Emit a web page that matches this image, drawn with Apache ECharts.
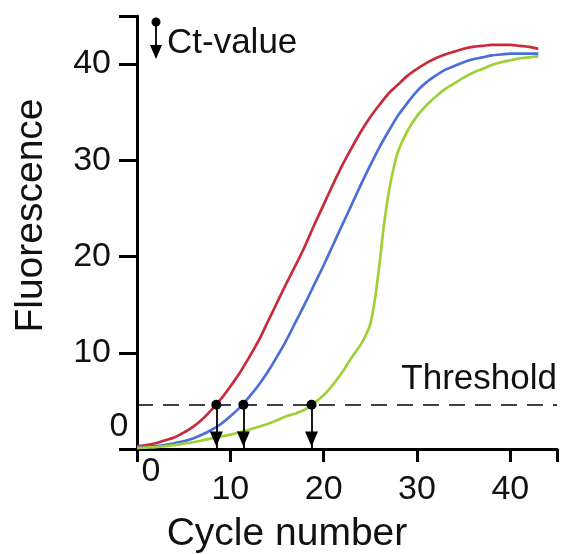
<!DOCTYPE html>
<html><head><meta charset="utf-8">
<script src="https://cdn.jsdelivr.net/npm/echarts@6/dist/echarts.min.js"></script>
<style>html,body{margin:0;padding:0;background:#fff}#c{width:561px;height:554px}</style>
</head><body><div id="c"></div>
<script>
const cycles = [0,1,2,3,4,5,6,7,8,9,10,11,12,13,14,15,16,17,18,19,20,21,22,23,24,25,26,27,28,29,30,31,32,33,34,35,36,37,38,39,40,41,42,43];
const redValues = [0.3,0.4,0.6,0.9,1.2,1.7,2.3,3.1,4.1,5.2,6.5,7.9,9.5,11.2,13.2,15.2,17.2,19.1,21.1,23.3,25.4,27.5,29.5,31.3,33.0,34.5,35.8,37.0,37.9,38.8,39.5,40.1,40.6,41.0,41.3,41.6,41.8,41.9,42.0,42.0,42.0,41.9,41.8,41.6];
const blueValues = [0.2,0.25,0.3,0.4,0.6,0.8,1.1,1.5,2.0,2.6,3.4,4.3,5.4,6.6,8.0,9.6,11.3,13.2,15.1,17.1,19.1,21.2,23.3,25.4,27.5,29.5,31.4,33.1,34.7,36.0,37.2,38.1,38.8,39.4,39.8,40.2,40.5,40.7,40.9,41.0,41.1,41.1,41.1,41.1];
const greenCycles = [0,1,2,3,4,5,6,7,8,9,10,11,12,13,14,15,16,17,18,19,20,21,22,23,24,24.5,25,25.5,26,26.5,27,27.5,28,29,30,31,32,33,34,35,36,37,38,39,40,41,42,43];
const greenValues = [0.1,0.15,0.2,0.3,0.4,0.55,0.7,0.9,1.1,1.3,1.5,1.75,2.0,2.3,2.6,3.0,3.4,3.7,4.1,4.8,5.6,6.7,8.0,9.5,10.9,11.8,13.0,15.6,19.4,23.6,26.8,29.2,31.0,33.1,34.6,35.7,36.6,37.4,38.0,38.6,39.1,39.5,39.9,40.2,40.4,40.6,40.7,40.8];
const threshold = 4.6;
const ctValues = [8.5, 11.4, 18.7];
const xTickValues = [0,10,20,30,40,45];
const xLabelValues = [10,20,30,40];
const yTickValues = [0,10,20,30,40,45];
const yLabelValues = [10,20,30,40];
const colors = ['#c62c3a', '#4b6fd6', '#a0d038'];
const FONT = "'Liberation Sans', Arial, sans-serif";

function pairs(xs, ys){ return xs.map((x,i)=>[x, ys[i]]); }

const chart = echarts.init(document.getElementById('c'), null, {renderer:'canvas'});
const axisLine = {show:true, lineStyle:{color:'#000', width:3}};
chart.setOption({
  animation: false,
  backgroundColor: '#fff',
  grid: {left:137, right:4, top:16, bottom:105, containLabel:false, outerBoundsMode:'none'},
  xAxis: {
    type:'value', min:0, max:45,
    axisLine: Object.assign({onZero:false}, axisLine),
    axisTick: {show:true, length:13, lineStyle:{color:'#000', width:3}, customValues: xTickValues},
    axisLabel: {customValues: xLabelValues, margin:24, fontSize:34, color:'#111', fontFamily:FONT},
    splitLine: {show:false},
    name: 'Cycle number', nameLocation:'middle', nameGap:66,
    nameTextStyle: {fontSize:39, color:'#111', fontFamily:FONT, padding:[0,120,0,0]}
  },
  yAxis: {
    type:'value', min:0, max:45,
    axisLine: Object.assign({onZero:false}, axisLine),
    axisTick: {show:true, length:18, lineStyle:{color:'#000', width:3}, customValues: yTickValues},
    axisLabel: {customValues: yLabelValues, margin:26, fontSize:34, color:'#111', fontFamily:FONT},
    splitLine: {show:false},
    name: 'Fluorescence', nameLocation:'middle', nameGap:86,
    nameTextStyle: {fontSize:39, color:'#111', fontFamily:FONT, padding:[0,0,0,34]}
  },
  series: [
    {type:'line', name:'red', data:pairs(cycles, redValues), smooth:0.3, showSymbol:false,
     lineStyle:{color:colors[0], width:2.7}, z:3,
     markLine: {
       silent:true, symbol:'none',
       lineStyle:{color:'#000', type:[16,10], width:1.6},
       label:{show:true, position:'insideEndTop', formatter:'Threshold', fontSize:35, color:'#111', fontFamily:FONT, distance:[0,8]},
       data:[{yAxis: threshold}]
     }},
    {type:'line', name:'blue', data:pairs(cycles, blueValues), smooth:0.3, showSymbol:false,
     lineStyle:{color:colors[1], width:2.7}, z:3},
    {type:'line', name:'green', data:pairs(greenCycles, greenValues), smooth:0.3, showSymbol:false,
     lineStyle:{color:colors[2], width:2.7}, z:3},
    {type:'line', name:'ctStems', data:[], z:4,
     markLine: {
       silent:true, symbol:['circle','none'], symbolSize:10,
       lineStyle:{color:'#000', type:'solid', width:1.8},
       itemStyle:{color:'#000'}, label:{show:false},
       data: ctValues.map(ct => [{coord:[ct, threshold]}, {coord:[ct, 0]}])
     }},
    {type:'scatter', name:'ctHeads', z:5, silent:true,
     symbol:'path://M0,0 L12,0 L6,14 Z', symbolSize:[13,15], symbolOffset:[0,-10],
     itemStyle:{color:'#000', opacity:1},
     data: ctValues.map(ct => [ct, 0])}
  ]
});

const origin = chart.convertToPixel({gridIndex:0}, [0,0]);
chart.setOption({
  graphic: [
    {type:'text', x: origin[0]-18, y: origin[1]-22,
     style:{text:'0', font:"34px " + FONT, fill:'#111', align:'center', verticalAlign:'middle'}},
    {type:'text', x: origin[0]+14, y: origin[1]+23,
     style:{text:'0', font:"34px " + FONT, fill:'#111', align:'center', verticalAlign:'middle'}},
    {type:'circle', shape:{cx:156, cy:22, r:4.5}, style:{fill:'#000'}},
    {type:'line', shape:{x1:156, y1:22, x2:156, y2:50}, style:{stroke:'#000', lineWidth:1.8}},
    {type:'polygon', shape:{points:[[150,45],[162,45],[156,59]]}, style:{fill:'#000'}},
    {type:'text', x:167, y:43, style:{text:'Ct-value', font:"35px " + FONT, fill:'#111', align:'left', verticalAlign:'middle'}}
  ]
});
</script></body></html>
